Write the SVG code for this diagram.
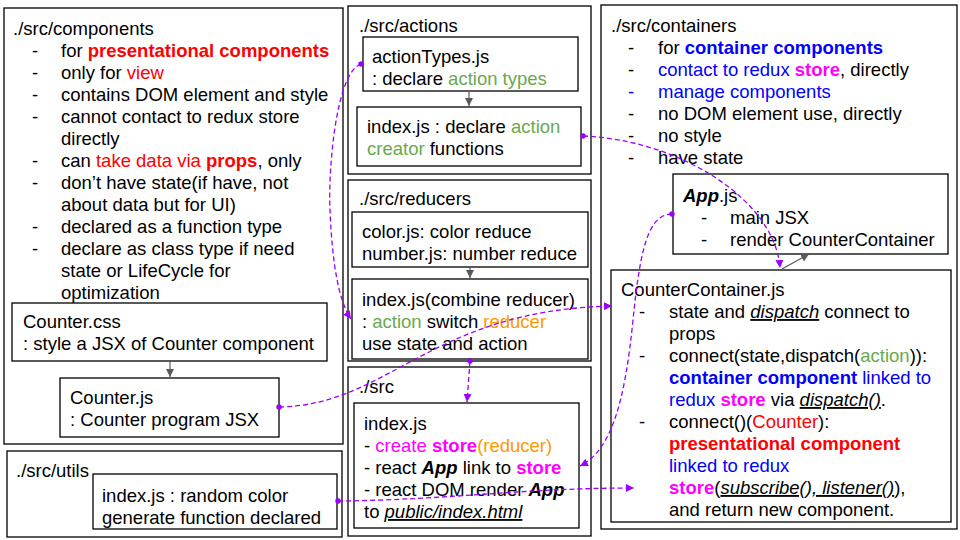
<svg xmlns="http://www.w3.org/2000/svg" width="960" height="540" viewBox="0 0 960 540">
<style>
text{font-family:"Liberation Sans",Arial,sans-serif;font-size:18.5px;fill:#000}
.box{fill:#fff;stroke:#000;stroke-width:1.3}
.r{fill:#ff0000}.g{fill:#6aa84f}.o{fill:#ff9900}.m{fill:#ff00ff}.bl{fill:#0000ff}
.b{font-weight:bold}.i{font-style:italic}.u{text-decoration:underline}
.dash{fill:none;stroke:#9900ff;stroke-width:1.3;stroke-dasharray:5 3}
.grey{fill:none;stroke:#595959;stroke-width:1.2}
</style>
<defs>
<marker id="pa" markerUnits="userSpaceOnUse" markerWidth="10" markerHeight="10" refX="8" refY="4" orient="auto"><path d="M0,0 L8,4 L0,8 z" fill="#9900ff"/></marker>
<marker id="pd" markerUnits="userSpaceOnUse" markerWidth="8" markerHeight="8" refX="4" refY="4" orient="auto"><circle cx="4" cy="4" r="2.7" fill="#9900ff"/></marker>
<marker id="ga" markerUnits="userSpaceOnUse" markerWidth="10" markerHeight="10" refX="8" refY="4" orient="auto"><path d="M0,0 L8,4 L0,8 z" fill="#595959"/></marker>
</defs>
<rect width="960" height="540" fill="#fff"/>

<g id="components">
<rect class="box" x="4" y="8" width="339" height="436"/>
<text x="13" y="35">./src/components</text>
<text x="32" y="57">-</text><text x="61" y="57">for <tspan class="b r">presentational components</tspan></text>
<text x="32" y="79">-</text><text x="61" y="79">only for <tspan class="r">view</tspan></text>
<text x="32" y="101">-</text><text x="61" y="101">contains DOM element and style</text>
<text x="32" y="123">-</text><text x="61" y="123">cannot contact to redux store</text>
<text x="61" y="145">directly</text>
<text x="32" y="167">-</text><text x="61" y="167">can <tspan class="r">take data via </tspan><tspan class="b r">props</tspan>, only</text>
<text x="32" y="189">-</text><text x="61" y="189">don’t have state(if have, not</text>
<text x="61" y="211">about data but for UI)</text>
<text x="32" y="233">-</text><text x="61" y="233">declared as a function type</text>
<text x="32" y="255">-</text><text x="61" y="255">declare as class type if need</text>
<text x="61" y="277">state or LifeCycle for</text>
<text x="61" y="299">optimization</text>
</g>
<g id="counter-css">
<rect class="box" x="12" y="303" width="315" height="58"/>
<text x="23" y="328">Counter.css</text>
<text x="23" y="350">: style a JSX of Counter component</text>
</g>
<g id="counter-js">
<rect class="box" x="60" y="378" width="219" height="59"/>
<text x="70" y="404">Counter.js</text>
<text x="70" y="426">: Counter program JSX</text>
</g>

<g id="utils">
<rect class="box" x="7" y="451" width="335" height="86"/>
<text x="16" y="477">./src/utils</text>
</g>
<g id="utils-index">
<rect class="box" x="93" y="474" width="244" height="55"/>
<text x="102" y="502">index.js : random color</text>
<text x="102" y="524">generate function declared</text>
</g>

<g id="actions">
<rect class="box" x="348" y="6" width="243" height="168"/>
<text x="359" y="32">./src/actions</text>
</g>
<g id="action-types">
<rect class="box" x="363" y="37" width="215" height="54"/>
<text x="372" y="63">actionTypes.js</text>
<text x="372" y="85">: declare <tspan class="g">action types</tspan></text>
</g>
<g id="actions-index">
<rect class="box" x="357" y="107" width="224" height="59"/>
<text x="367" y="133">index.js : declare <tspan class="g">action</tspan></text>
<text x="367" y="155"><tspan class="g">creator</tspan> functions</text>
</g>

<g id="reducers">
<rect class="box" x="348" y="180" width="243" height="181"/>
<text x="359" y="205">./src/reducers</text>
</g>
<g id="reducers-files">
<rect class="box" x="352" y="212" width="236" height="55"/>
<text x="362" y="238">color.js: color reduce</text>
<text x="362" y="260">number.js: number reduce</text>
</g>
<g id="reducers-index">
<rect class="box" x="352" y="279" width="236" height="80"/>
<text x="362" y="306">index.js(combine reducer)</text>
<text x="362" y="328">: <tspan class="g">action</tspan> switch <tspan class="o">reducer</tspan></text>
<text x="362" y="350">use state and action</text>
</g>

<g id="src">
<rect class="box" x="348" y="367" width="243" height="169"/>
<text x="359" y="393">./src</text>
</g>
<g id="src-index">
<rect class="box" x="354" y="403" width="225" height="125"/>
<text x="364" y="430">index.js</text>
<text x="364" y="452">- <tspan class="m">create </tspan><tspan class="m b">store</tspan><tspan class="o">(reducer)</tspan></text>
<text x="364" y="474">- react <tspan class="b i">App</tspan> link to <tspan class="m b">store</tspan></text>
<text x="364" y="496">- react DOM render <tspan class="b i">App</tspan></text>
<text x="364" y="518">to <tspan class="i u">public/index.html</tspan></text>
</g>

<g id="containers">
<rect class="box" x="601" y="5" width="356" height="524"/>
<text x="611" y="32">./src/containers</text>
<text x="628" y="54">-</text><text x="658" y="54">for <tspan class="b bl">container components</tspan></text>
<text x="628" y="76">-</text><text x="658" y="76"><tspan class="bl">contact to redux </tspan><tspan class="b m">store</tspan>, directly</text>
<text x="628" y="98" class="bl">-</text><text x="658" y="98" class="bl">manage components</text>
<text x="628" y="120">-</text><text x="658" y="120">no DOM element use, directly</text>
<text x="628" y="142">-</text><text x="658" y="142">no style</text>
<text x="628" y="164">-</text><text x="658" y="164">have state</text>
</g>
<g id="app-js">
<rect class="box" x="673" y="174" width="275" height="80"/>
<text x="683" y="202"><tspan class="b i">App</tspan>.js</text>
<text x="701" y="224">-</text><text x="730" y="224">main JSX</text>
<text x="701" y="246">-</text><text x="730" y="246">render CounterContainer</text>
</g>
<g id="counter-container">
<rect class="box" x="611" y="270" width="340" height="252"/>
<text x="621" y="296">CounterContainer.js</text>
<text x="639" y="318">-</text><text x="669" y="318">state and <tspan class="i u">dispatch</tspan> connect to</text>
<text x="669" y="340">props</text>
<text x="639" y="362">-</text><text x="669" y="362">connect(state,dispatch(<tspan class="g">action</tspan>)):</text>
<text x="669" y="384"><tspan class="b bl">container component</tspan><tspan class="bl"> linked to</tspan></text>
<text x="669" y="406"><tspan class="bl">redux </tspan><tspan class="b m">store</tspan> via <tspan class="i u">dispatch()</tspan>.</text>
<text x="639" y="428">-</text><text x="669" y="428">connect()(<tspan class="r">Counter</tspan>):</text>
<text x="669" y="450" class="b r">presentational component</text>
<text x="669" y="472" class="bl">linked to redux</text>
<text x="669" y="494"><tspan class="b m">store</tspan>(<tspan class="i u">subscribe(), listener()</tspan>),</text>
<text x="669" y="516">and return new component.</text>
</g>

<g id="connectors">
<path class="grey" d="M170,361 L170,377" marker-end="url(#ga)"/>
<path class="grey" d="M469,91 L469,106" marker-end="url(#ga)"/>
<path class="grey" d="M470,267 L470,278" marker-end="url(#ga)"/>
<path class="grey" d="M782,269 L809,254" marker-end="url(#ga)"/>
<path class="dash" d="M361,64 C336,72 328,170 330,210 C332,260 338,300 351,319" marker-start="url(#pd)" marker-end="url(#pa)"/>
<path class="dash" d="M583,136 C680,140 775,200 780,268" marker-start="url(#pd)" marker-end="url(#pa)"/>
<path class="dash" d="M672,214 C648,214 640,250 633,320 C625,400 612,450 580,466" marker-start="url(#pd)" marker-end="url(#pa)"/>
<path class="dash" d="M279,407 C390,405 430,310 612,306" marker-start="url(#pd)" marker-end="url(#pa)"/>
<path class="dash" d="M470,361 L467,402" marker-start="url(#pd)" marker-end="url(#pa)"/>
<path class="dash" d="M338,501 C450,500 520,488 634,488" marker-start="url(#pd)" marker-end="url(#pa)"/>
</g>
</svg>
